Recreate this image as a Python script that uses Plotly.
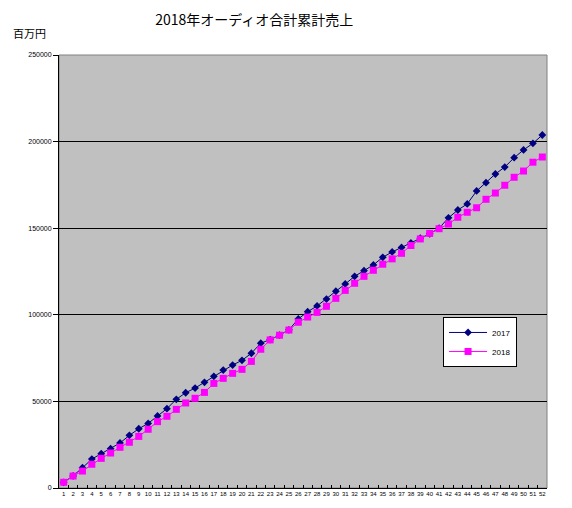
import plotly.graph_objects as go

weeks = [str(i) for i in range(1, 53)]

sales_2017 = [3300, 7000, 11700, 16700, 19800, 22700, 26000, 30400, 34200, 37300,
              41600, 45800, 51200, 55000, 57700, 61000, 64500, 68100, 71000, 73700,
              77800, 83600, 85700, 88300, 91300, 97600, 101800, 105100, 109100, 113600,
              117800, 122200, 125500, 128800, 133200, 136300, 138900, 141500, 144200, 146800,
              150000, 156000, 160500, 164000, 171500, 176300, 181300, 185300, 190700, 195200,
              199000, 203800]

sales_2018 = [3300, 6900, 9800, 13700, 17100, 20200, 23500, 26400, 29800, 33900,
              38300, 41400, 45400, 49100, 51800, 55200, 60400, 63300, 66200, 68500,
              73100, 80100, 85500, 88200, 91200, 95700, 98700, 101400, 104900, 109500,
              114100, 118200, 122200, 125700, 129200, 132300, 135500, 140000, 143800, 147000,
              149700, 152400, 156300, 159200, 161800, 166700, 170300, 174800, 179400, 183000,
              188100, 191100]

series_names = ["2017", "2018"]

fig = go.Figure()
fig.add_trace(go.Scatter(
    x=weeks, y=sales_2017, name=series_names[0], mode="lines+markers",
    line=dict(color="#000080", width=1),
    marker=dict(symbol="diamond", size=6, color="#000080"),
))
fig.add_trace(go.Scatter(
    x=weeks, y=sales_2018, name=series_names[1], mode="lines+markers",
    line=dict(color="#FF00FF", width=1),
    marker=dict(symbol="square", size=7, color="#FF00FF"),
))

fig.update_layout(
    width=572, height=508,
    margin=dict(l=51, r=33, t=47, b=28, autoexpand=False),
    paper_bgcolor="white",
    plot_bgcolor="#C0C0C0",
    title=dict(text="2018年オーディオ合計累計売上", x=0.40, xref="paper", xanchor="center",
               y=0.986, yanchor="top",
               font=dict(family="Noto Sans CJK JP", size=14, color="black")),
    font=dict(family="Liberation Sans", color="black"),
    showlegend=True,
    legend=dict(x=0.787, y=0.395, xanchor="left", yanchor="top",
                bgcolor="white", bordercolor="black", borderwidth=1,
                font=dict(family="Liberation Sans", size=8, color="black"),
                tracegroupgap=0, itemwidth=38),
    annotations=[dict(text="百万円", xref="paper", yref="paper", x=-0.098, y=1.051,
                      xanchor="left", yanchor="middle", showarrow=False,
                      font=dict(family="Noto Sans CJK JP", size=11, color="black"))],
    shapes=[dict(type="rect", xref="paper", yref="paper", x0=0, y0=0, x1=1, y1=1,
                 line=dict(color="#808080", width=1), layer="below")],
)

fig.update_xaxes(
    type="category", range=[-0.5, len(weeks) - 0.5],
    tickson="boundaries", ticks="inside", ticklen=3, tickcolor="black",
    showline=True, linecolor="black", linewidth=1, showgrid=False,
    tickangle=0, automargin=False,
    tickfont=dict(family="Liberation Sans", size=6, color="black"),
)
fig.update_yaxes(
    range=[0, 250000], dtick=50000, tickformat="d", automargin=False,
    ticks="outside", ticklen=5, tickcolor="black",
    showline=True, linecolor="black", linewidth=1,
    showgrid=True, gridcolor="black", gridwidth=1, zeroline=False,
    tickfont=dict(family="Liberation Sans", size=7, color="black"),
)

fig.write_html("out.html")
